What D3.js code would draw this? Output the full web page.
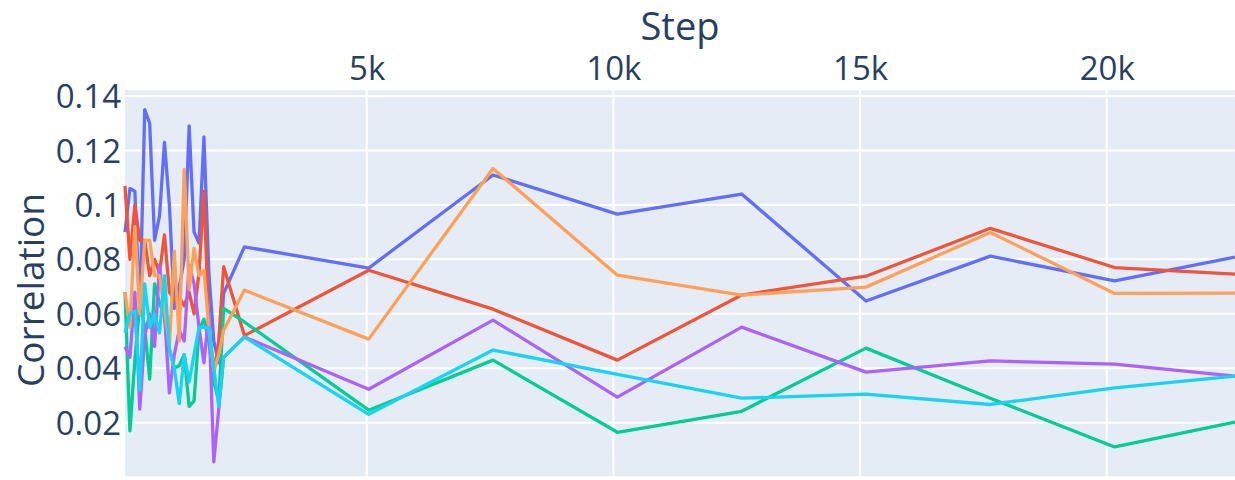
<!DOCTYPE html>
<html>
<head>
<meta charset="utf-8">
<script src="https://cdn.jsdelivr.net/npm/d3@7"></script>
<style>
  body { margin: 0; background: #fff; }
  svg { display: block; }
</style>
</head>
<body>
<svg id="chart" width="1235" height="480"></svg>
<script>
// steps logged for every run
var steps = [100, 200, 300, 400, 500, 600, 700, 800, 900, 1000,
             1100, 1200, 1300, 1400, 1500, 1600, 1700, 1800, 1900, 2000,
             2100, 2520, 5040, 7560, 10080, 12600, 15120, 17640, 20160, 22600];

var runBlue   = [0.090, 0.106, 0.105, 0.060, 0.135, 0.130, 0.087, 0.096, 0.123, 0.100,
                 0.062, 0.070, 0.080, 0.129, 0.090, 0.086, 0.125, 0.075, 0.050, 0.042,
                 0.0675, 0.0846, 0.0768, 0.111, 0.0966, 0.104, 0.0647, 0.0812, 0.0721, 0.0808];
var runRed    = [0.107, 0.080, 0.100, 0.087, 0.087, 0.074, 0.080, 0.075, 0.089, 0.068,
                 0.065, 0.066, 0.063, 0.068, 0.060, 0.075, 0.105, 0.055, 0.038, 0.050,
                 0.0773, 0.052, 0.076, 0.0617, 0.043, 0.0669, 0.0738, 0.0914, 0.077, 0.0746];
var runGreen  = [0.068, 0.017, 0.043, 0.064, 0.055, 0.036, 0.071, 0.064, 0.059, 0.047,
                 0.040, 0.041, 0.045, 0.026, 0.028, 0.054, 0.058, 0.050, 0.035, 0.028,
                 0.062, 0.057, 0.0246, 0.043, 0.0165, 0.0242, 0.0474, 0.029, 0.0111, 0.0202];
var runPurple = [0.048, 0.044, 0.068, 0.025, 0.052, 0.060, 0.048, 0.078, 0.060, 0.031,
                 0.045, 0.054, 0.050, 0.078, 0.071, 0.055, 0.042, 0.060, 0.0056, 0.025,
                 0.044, 0.0515, 0.0323, 0.0577, 0.0294, 0.0551, 0.0386, 0.0427, 0.0415, 0.0371];
var runOrange = [0.068, 0.055, 0.092, 0.060, 0.087, 0.087, 0.074, 0.074, 0.062, 0.048,
                 0.083, 0.050, 0.113, 0.069, 0.084, 0.074, 0.076, 0.055, 0.039, 0.045,
                 0.054, 0.0687, 0.0507, 0.1134, 0.0742, 0.0669, 0.0698, 0.0899, 0.0675, 0.0676];
var runCyan   = [0.053, 0.060, 0.061, 0.032, 0.071, 0.055, 0.060, 0.053, 0.074, 0.047,
                 0.040, 0.027, 0.045, 0.035, 0.045, 0.055, 0.055, 0.055, 0.040, 0.026,
                 0.044, 0.0515, 0.0231, 0.0467, 0.0378, 0.029, 0.0305, 0.0267, 0.0328, 0.0371];

var series = [runBlue, runRed, runGreen, runPurple, runOrange, runCyan];
var colors = ["#636efa", "#ef553b", "#00cc96", "#ab63fa", "#ffa15a", "#19d3f3"];

var xTicks = [5000, 10000, 15000, 20000];
var yTicks = [0.02, 0.04, 0.06, 0.08, 0.1, 0.12, 0.14];

var plot = {left: 125, right: 1235, top: 90, bottom: 478};
var font = "'Open Sans', verdana, arial, sans-serif";
var textColor = "#2a3f5f";

var svg = d3.select("#chart");

var x = d3.scaleLinear()
  .domain(d3.extent(steps))
  .range([plot.left, plot.right]);
var y = d3.scaleLinear()
  .domain([-0.0003, 0.1422])
  .range([plot.bottom, plot.top]);

// plot background
svg.append("rect")
  .attr("x", plot.left).attr("y", plot.top)
  .attr("width", plot.right - plot.left).attr("height", plot.bottom - plot.top)
  .attr("fill", "#e5ecf6");

// grid lines
svg.append("g").selectAll("line").data(xTicks).enter().append("line")
  .attr("x1", function(d){ return x(d) }).attr("x2", function(d){ return x(d) })
  .attr("y1", plot.top).attr("y2", plot.bottom)
  .attr("stroke", "#fff").attr("stroke-width", 2);
svg.append("g").selectAll("line").data(yTicks).enter().append("line")
  .attr("x1", plot.left).attr("x2", plot.right)
  .attr("y1", function(d){ return y(d) }).attr("y2", function(d){ return y(d) })
  .attr("stroke", "#fff").attr("stroke-width", 2);
// zero line
svg.append("line")
  .attr("x1", plot.left).attr("x2", plot.right)
  .attr("y1", y(0)).attr("y2", y(0))
  .attr("stroke", "#fff").attr("stroke-width", 2);

// axes (x on top, y on left), no domain lines
var xAxis = d3.axisTop(x).tickValues(xTicks).tickSize(0).tickPadding(10)
  .tickFormat(function(d){ return (d / 1000) + "k" });
var yAxis = d3.axisLeft(y).tickValues(yTicks).tickSize(0).tickPadding(4)
  .tickFormat(function(d){ return String(+d.toFixed(2)) });

var gx = svg.append("g").attr("transform", "translate(0," + plot.top + ")").call(xAxis);
var gy = svg.append("g").attr("transform", "translate(" + plot.left + ",0)").call(yAxis);
[gx, gy].forEach(function(g){
  g.select(".domain").remove();
  g.selectAll("text")
    .style("font-family", font)
    .style("font-size", "33px")
    .attr("fill", textColor);
});
gy.selectAll("text").attr("dy", "0.35em");

// lines
var line = d3.line()
  .x(function(d, i){ return x(steps[i]) })
  .y(function(d){ return y(d) });

svg.append("g").selectAll("path").data(series).enter().append("path")
  .attr("d", line)
  .attr("fill", "none")
  .attr("stroke", function(d, i){ return colors[i] })
  .attr("stroke-width", 3.3)
  .attr("stroke-linejoin", "round");

// titles
svg.append("text")
  .attr("x", (plot.left + plot.right) / 2).attr("y", 40)
  .attr("text-anchor", "middle")
  .style("font-family", font).style("font-size", "38px")
  .attr("fill", textColor)
  .text("Step");
svg.append("text")
  .attr("transform", "translate(44,290) rotate(-90)")
  .attr("text-anchor", "middle")
  .style("font-family", font).style("font-size", "37px")
  .attr("fill", textColor)
  .text("Correlation");
</script>
</body>
</html>
